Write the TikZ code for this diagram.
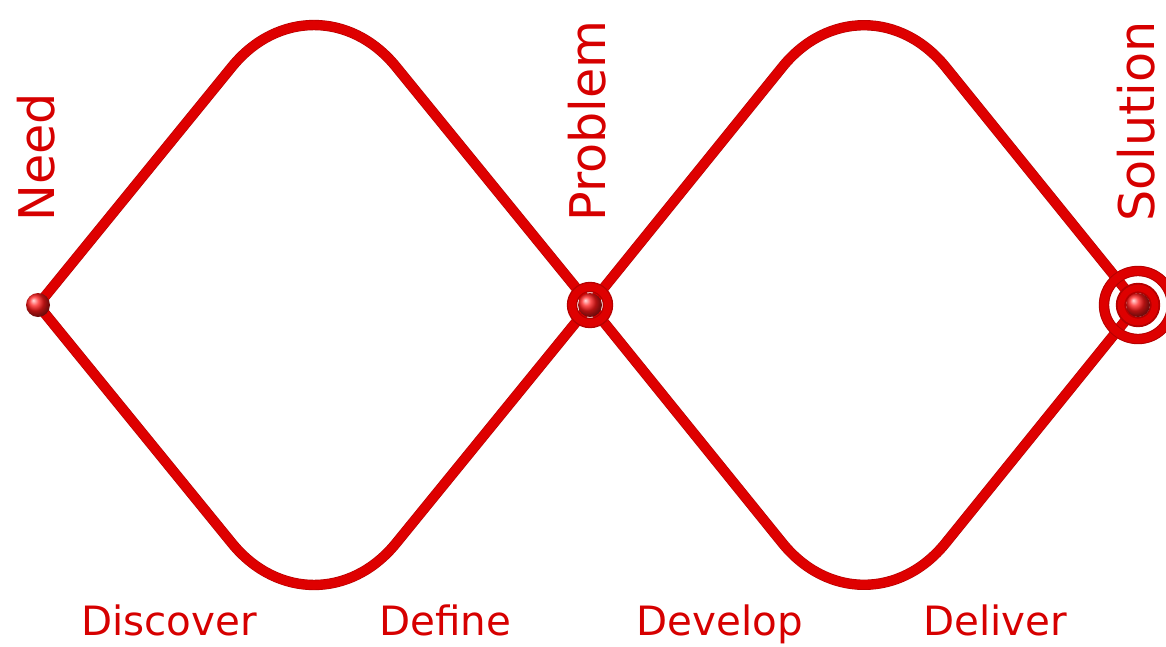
\documentclass[tikz,border=0pt]{standalone}
\usepackage{fontspec}
\setmainfont{DejaVu Sans}
\usepackage{tikz}
\definecolor{tubered}{RGB}{222,0,0}
\definecolor{tubedark}{RGB}{180,0,0}
\definecolor{labelred}{RGB}{214,0,0}

\begin{document}
\begin{tikzpicture}[x=0.02cm, y=-0.02cm,
  tube/.style={line width=5.2pt, draw=tubered, preaction={draw=tubedark, line width=5.9pt}},
  phase/.style={text=labelred, font=\fontsize{23}{28}\selectfont, anchor=base},
  milestone/.style={text=labelred, font=\fontsize{28}{34}\selectfont, rotate=90, anchor=base west, inner sep=0pt},
  bead/.style={shading=ball, ball color=red!90!white}]
\useasboundingbox (0,0) rectangle (1166,646);
% the three meeting points and the (cut off) tips of both diamonds
\coordinate (need) at (38,305);
\coordinate (problem) at (590,305);
\coordinate (solution) at (1138,305);
\coordinate (top1) at (314,-34);
\coordinate (bot1) at (314,644);
\coordinate (top2) at (864,-34);
\coordinate (bot2) at (864,644);
% diamonds, rounded only at top and bottom
\draw[tube, rounded corners=2.6cm] (need) -- (top1) -- (problem);
\draw[tube, rounded corners=2.6cm] (need) -- (bot1) -- (problem);
\draw[tube, rounded corners=2.6cm] (problem) -- (top2) -- (solution);
\draw[tube, rounded corners=2.6cm] (problem) -- (bot2) -- (solution);
% markers
\shade[bead] (need) circle[radius=12];
\draw[tube, line width=4.4pt, preaction={draw=tubedark, line width=5.1pt}] (problem) circle[radius=18];
\shade[bead] (problem) circle[radius=12];
\draw[tube, line width=4.8pt, preaction={draw=tubedark, line width=5.5pt}] (solution) circle[radius=34];
\draw[tube, line width=3.8pt, preaction={draw=tubedark, line width=4.5pt}] (solution) circle[radius=17];
\shade[bead] (solution) circle[radius=12];
% labels
\node[milestone] (needlabel) at (54,222) {Need};
\node[milestone] (problemlabel) at (605,222) {Problem};
\node[milestone] (solutionlabel) at (1154,222) {Solution};
\node[phase] (discover) at (169,635) {Discover};
\node[phase] (define) at (445,635) {Define};
\node[phase] (develop) at (720,635) {Develop};
\node[phase] (deliver) at (995,635) {Deliver};
\end{tikzpicture}
\end{document}
